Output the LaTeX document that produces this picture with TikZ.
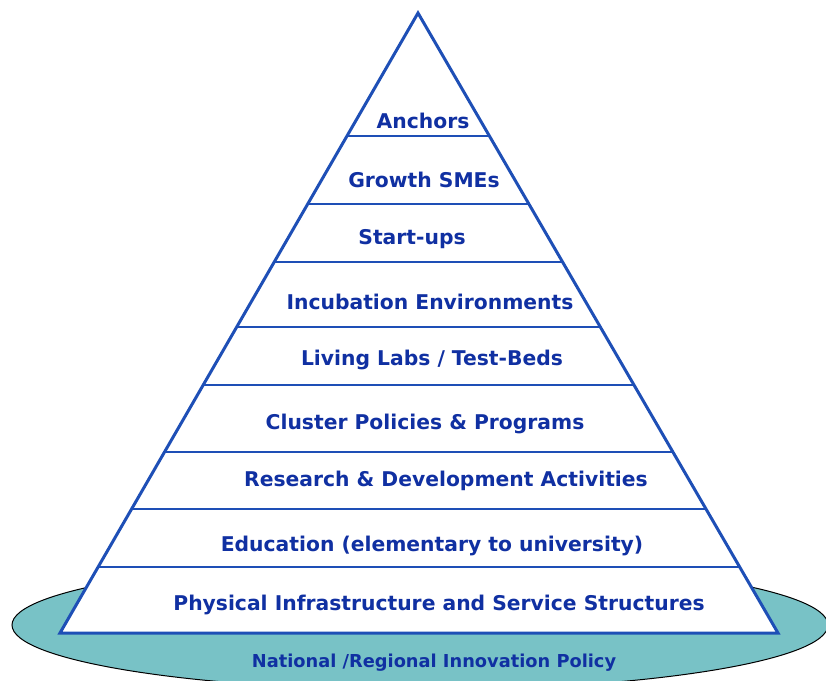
\documentclass[tikz,border=0pt]{standalone}
\usepackage{fontspec}
\setmainfont{DejaVu Sans}
\usetikzlibrary{calc}
\definecolor{pyrblue}{HTML}{1E4FB6}
\definecolor{labelblue}{HTML}{1030A2}
\definecolor{policyteal}{HTML}{78C2C6}
\tikzset{
  level/.style={font=\bfseries\fontsize{20.3}{24}\selectfont, text=labelblue, inner sep=0pt, anchor=center},
  policylabel/.style={font=\bfseries\fontsize{17.8}{21}\selectfont, text=labelblue, inner sep=0pt, anchor=center},
  edge/.style={draw=pyrblue, line width=3pt, line join=miter},
  divider/.style={draw=pyrblue, line width=2.6pt},
}
\begin{document}
\begin{tikzpicture}[x=1pt, y=-1pt]
  \useasboundingbox (0,0) rectangle (826,680);
  % policy base
  \begin{scope}
    \clip (0,0) rectangle (826,680);
    \draw[fill=policyteal, draw=black, line width=1pt] (420,625) ellipse [x radius=408, y radius=65];
  \end{scope}
  % pyramid outline
  \coordinate (apex) at (418,13);
  \coordinate (bl) at (60,633);
  \coordinate (br) at (778,633);
  \fill[white] (apex) -- (br) -- (bl) -- cycle;
  % dividers between levels
  \foreach \t/\n in {0.1984/1, 0.3081/2, 0.4016/3, 0.5065/4, 0.6/5, 0.708/6, 0.8/7, 0.8935/8} {
    \coordinate (l\n) at ($(apex)!\t!(bl)$);
    \coordinate (r\n) at ($(apex)!\t!(br)$);
    \draw[divider] (l\n) -- (r\n);
  }
  \draw[edge] (apex) -- (br) -- (bl) -- cycle;
  % level labels
  \node[level] (anchors) at (423,121) {Anchors};
  \node[level] (growth) at (424,180) {Growth SMEs};
  \node[level] (startups) at (412,239) {Start-ups};
  \node[level] (incubation) at (430,302) {Incubation Environments};
  \node[level] (livinglabs) at (432,360) {Living Labs / Test-Beds};
  \node[level] (cluster) at (425,424) {Cluster Policies \& Programs};
  \node[level] (research) at (446,481) {Research \& Development Activities};
  \node[level] (education) at (432,546) {Education (elementary to university)};
  \node[level] (infra) at (439,605) {Physical Infrastructure and Service Structures};
  \node[policylabel] (policy) at (434,663) {National /Regional Innovation Policy};
\end{tikzpicture}
\end{document}
